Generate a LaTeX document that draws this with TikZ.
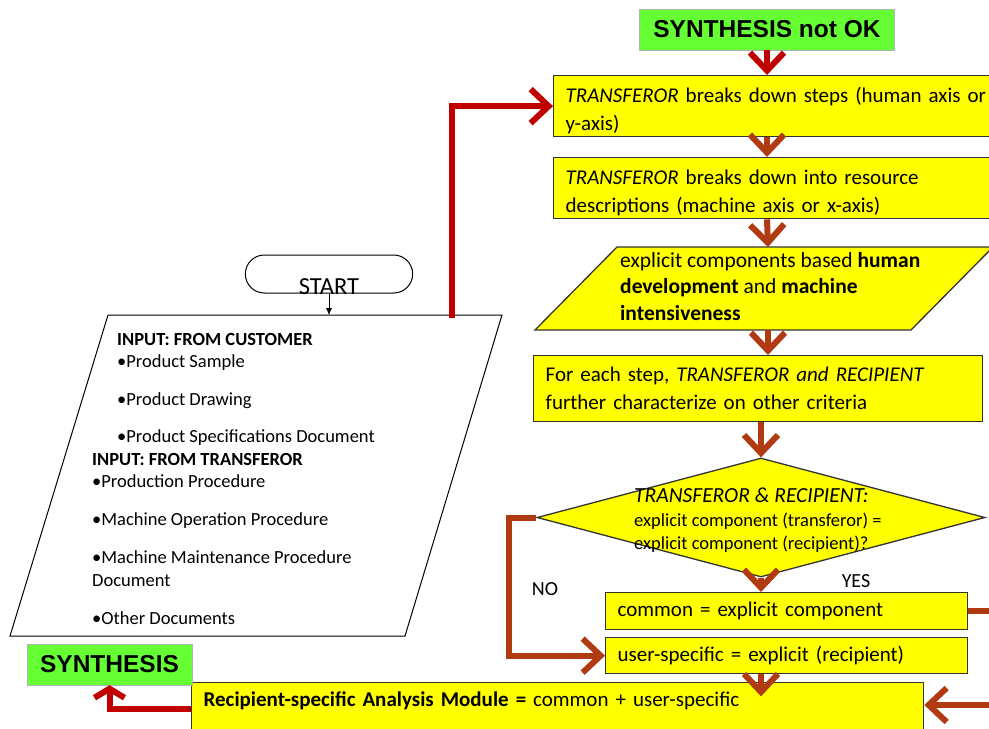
\documentclass[tikz,border=0pt]{standalone}
\usepackage{fontspec}
\setmainfont{Carlito}
\newfontfamily\headfont{Liberation Sans}
\usetikzlibrary{positioning}
\usetikzlibrary{arrows.meta}
\usetikzlibrary{shapes.geometric,shapes.misc}
\definecolor{boxyellow}{RGB}{255,255,0}
\definecolor{okgreen}{RGB}{102,255,51}
\definecolor{flowbrown}{RGB}{176,58,18}
\definecolor{flowred}{RGB}{192,0,0}
\newcommand{\fsz}[2]{\fontsize{#1}{#2}\selectfont} % #1 = size , #2 = skip

\begin{document}
\begin{tikzpicture}[x=1pt,y=-1pt,
    okbox/.style={draw=black!30, fill=okgreen, inner sep=0pt,
        minimum height=41pt, font=\headfont\bfseries\fsz{24.5}{28}},
    stepbox/.style={draw=black!80, line width=1.3pt, fill=boxyellow,
        anchor=north west, align=left, inner xsep=12pt, inner ysep=0pt,
        font=\fsz{21}{28}},
    decision/.style={diamond, draw=black!80, line width=1.3pt, fill=boxyellow,
        minimum width=448pt, minimum height=119pt, inner sep=0pt},
    flow/.style={line width=6pt, draw=flowbrown,
        -{Straight Barb[length=18pt, width=34pt]}},
    redflow/.style={flow, draw=flowred},
    ]
    \useasboundingbox (0,0) rectangle (989,729);
    \clip (0,0) rectangle (989,729);

    % right column
    \node (notok) [okbox, minimum width=255pt] at (767,29.5) {SYNTHESIS not OK};
    \node (brkstep) [stepbox, minimum width=460pt, minimum height=61pt, text width=436pt, text height=25pt]
        at (553,75) {\textit{TRANSFEROR} breaks down steps (human axis or\\y-axis)};
    \node (brkres) [stepbox, minimum width=460pt, minimum height=61pt, text width=436pt, text height=25pt]
        at (553,157) {\textit{TRANSFEROR} breaks down into resource\\descriptions (machine axis or x-axis)};
    \draw[draw=black!80, line width=1.3pt, fill=boxyellow]
        (535,330) -- (617,247) -- (993,247) -- (911,330) -- cycle;
    \coordinate (exptop) at (768,247);
    \coordinate (expbot) at (768,330);
    \node (expl) [anchor=north west, align=left, inner sep=0pt, font=\fsz{21.5}{26.5}] at (620,252)
        {explicit components based \textbf{human}\\\textbf{development} and \textbf{machine}\\\textbf{intensiveness}};
    \node (charac) [stepbox, minimum width=449pt, minimum height=66pt, text width=425pt]
        at (533,355) {For each step, \textit{TRANSFEROR and RECIPIENT}\\further characterize on other criteria};
    \node (same) [decision] at (761,517.5) {};
    \node (sametext) [anchor=north west, align=left, inner sep=0pt, font=\fsz{18.5}{23.5}] at (634,488)
        {{\fsz{21.5}{23.5}\itshape TRANSFEROR \& RECIPIENT:}\\explicit component (transferor) =\\explicit component (recipient)?};
    \node (yes) [font=\fsz{20}{20}] at (856,581) {YES};
    \node (no) [font=\fsz{20}{20}] at (545,589) {NO};
    \node (common) [stepbox, minimum width=362pt, minimum height=37pt, text width=338pt]
        at (605,592) {common = explicit component};
    \node (user) [stepbox, minimum width=362pt, minimum height=36pt, text width=338pt]
        at (605,637) {user-specific = explicit (recipient)};
    \node (module) [stepbox, minimum width=732pt, text width=708pt,
        text height=15pt, text depth=40pt, inner ysep=9pt]
        at (191,682) {\textbf{Recipient-specific Analysis Module =} common + user-specific};
    \node (synth) [okbox, minimum width=165pt] at (109.5,664.5) {SYNTHESIS};

    % left column
    \node (start) [draw, line width=1pt, rounded rectangle, minimum width=174pt, minimum height=38pt,
        label={[anchor=base, font=\fsz{24.5}{24.5}, yshift=-1pt]below:START}] at (329,274) {};
    \draw[line width=1pt] (10,636) -- (108,315) -- (502,315) -- (405,636) -- cycle;
    \coordinate (intop) at (329,315);
    \coordinate (inout) at (452,318);
    \node (custin) [anchor=north west, align=left, inner sep=0pt, font=\fsz{18.5}{22.5}] at (117,333)
        {\textbf{INPUT: FROM CUSTOMER}\\\textbullet Product Sample\\[15pt]\textbullet Product Drawing\\[14.5pt]\textbullet Product Specifications Document};
    \node (transin) [anchor=north west, align=left, inner sep=0pt, font=\fsz{18.5}{22.5}] at (92,453)
        {\textbf{INPUT: FROM TRANSFEROR}\\\textbullet Production Procedure\\[15.5pt]\textbullet Machine Operation Procedure\\[15.5pt]\textbullet Machine Maintenance Procedure\\Document\\[15.5pt]\textbullet Other Documents};

    % connectors
    \draw[-{Latex[length=7pt, width=6pt]}] (start.south) -- (intop);
    \draw[redflow] (inout) |- (brkstep.west);
    \draw[redflow] (notok.south) -- (notok.south |- brkstep.north);
    \draw[flow] (brkstep.south -| notok) -- (brkres.north -| notok);
    \draw[flow] (brkres.south -| notok) -- (exptop);
    \draw[flow] (expbot) -- (charac.north -| expbot);
    \draw[flow] (same.north |- charac.south) -- (same.north);
    \draw[flow] (same.south) -- (same.south |- common.north);
    \draw[flow] (same.west) -- ++(-27,0) |- (user.west);
    \draw[flow, -] (common.east) -- ++(40,0);
    \coordinate (feedin) at (1000,705);
    \draw[flow] (feedin) -- (feedin -| module.east);
    \draw[flow] (user.south -| same) -- ++(0,22);
    \draw[redflow, -{Straight Barb[length=9pt, width=30pt]}] ([yshift=10pt]module.west) -| (synth.south);
\end{tikzpicture}
\end{document}
